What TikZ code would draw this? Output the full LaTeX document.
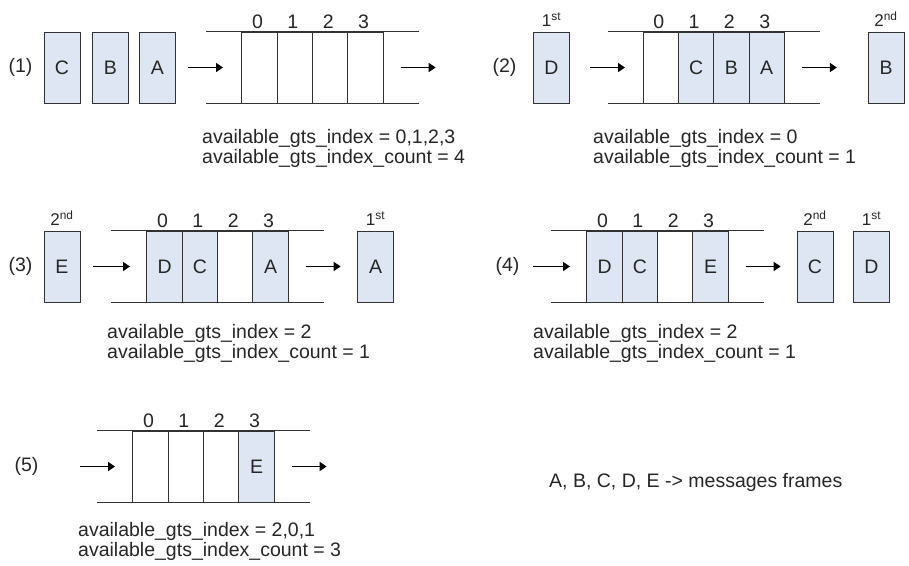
\documentclass[tikz,border=0pt]{standalone}
\usepackage{fontspec}
\setmainfont{Liberation Sans}
\usetikzlibrary{arrows.meta}
\definecolor{fillc}{RGB}{221,230,242}
\definecolor{linec}{RGB}{50,50,50}
\newcommand\mainf{\fontsize{19.5}{20}\selectfont}
\newcommand\ordf{\fontsize{17}{18}\selectfont}
\begin{document}
\begin{tikzpicture}[x=1pt,y=-1pt,
  every node/.style={font=\mainf, inner sep=0pt, text=black!85},
  frame/.style={draw=linec, fill=fillc, line width=1pt, minimum width=36pt, minimum height=71pt},
  cellb/.style={draw=linec, line width=1pt, minimum width=35.3pt, minimum height=71pt},
  qline/.style={draw=linec, line width=1.2pt},
  arr/.style={draw=black, line width=1.6pt, -{Triangle[length=7pt,width=9pt]}},
  txt/.style={anchor=base west},
  ord/.style={font=\ordf, anchor=base}]
\useasboundingbox[fill=white] (0,0) rectangle (909,565);

% ---------------- Panel 1 ----------------
\node (p1) at (20.5,67.5) {(1)};
\node[frame] (C1) at (62,67.5) {C};
\node[frame] (B1) at (110.5,67.5) {B};
\node[frame] (A1) at (157.5,67.5) {A};
\coordinate (i1s) at (188,67.5);
\coordinate (i1e) at (223,67.5);
\draw[arr] (i1s) -- (i1e);
\foreach \i/\l/\c in {0//white,1//white,2//white,3//white}{
  \node[cellb, fill=\c] (q1c\i) at (259.6+35.3*\i,67.5) {\l};
  \node (q1n\i) at ([xshift=-2pt,yshift=10pt]q1c\i.north) {\i};
}
\draw[qline] ([xshift=-35pt]q1c0.north west) -- ([xshift=35pt]q1c3.north east);
\draw[qline] ([xshift=-35pt]q1c0.south west) -- ([xshift=35pt]q1c3.south east);
\coordinate (o1s) at ([xshift=17pt]q1c3.east);
\coordinate (o1e) at ([xshift=52pt]q1c3.east);
\draw[arr] (o1s) -- (o1e);
\node[txt] (t1a) at (202,143) {available\_gts\_index = 0,1,2,3};
\node[txt] (t1b) at (202,163) {available\_gts\_index\_count = 4};

% ---------------- Panel 2 ----------------
\node (p2) at (504.5,67.5) {(2)};
\node[frame] (D2) at (551.5,67.5) {D};
\node[ord] (D2o) at ([yshift=5pt]D2.north) {1\textsuperscript{st}};
\coordinate (i2s) at (590,67.5);
\coordinate (i2e) at (625,67.5);
\draw[arr] (i2s) -- (i2e);
\foreach \i/\l/\c in {0//white,1/C/fillc,2/B/fillc,3/A/fillc}{
  \node[cellb, fill=\c] (q2c\i) at (660.8+35.3*\i,67.5) {\l};
  \node (q2n\i) at ([xshift=-2pt,yshift=10pt]q2c\i.north) {\i};
}
\draw[qline] ([xshift=-35pt]q2c0.north west) -- ([xshift=35pt]q2c3.north east);
\draw[qline] ([xshift=-35pt]q2c0.south west) -- ([xshift=35pt]q2c3.south east);
\coordinate (o2s) at ([xshift=17pt]q2c3.east);
\coordinate (o2e) at ([xshift=52pt]q2c3.east);
\draw[arr] (o2s) -- (o2e);
\node[frame] (B2) at (886,67.5) {B};
\node[ord] (B2o) at ([yshift=5pt]B2.north) {2\textsuperscript{nd}};
\node[txt] (t2a) at (593,143) {available\_gts\_index = 0};
\node[txt] (t2b) at (593,163) {available\_gts\_index\_count = 1};

% ---------------- Panel 3 ----------------
\node (p3) at (20.5,266.5) {(3)};
\node[frame] (E3) at (62,266.5) {E};
\node[ord] (E3o) at ([yshift=5pt]E3.north) {2\textsuperscript{nd}};
\coordinate (i3s) at (93,266.5);
\coordinate (i3e) at (130,266.5);
\draw[arr] (i3s) -- (i3e);
\foreach \i/\l/\c in {0/D/fillc,1/C/fillc,2//white,3/A/fillc}{
  \node[cellb, fill=\c] (q3c\i) at (164.6+35.3*\i,266.5) {\l};
  \node (q3n\i) at ([xshift=-2pt,yshift=10pt]q3c\i.north) {\i};
}
\draw[qline] ([xshift=-35pt]q3c0.north west) -- ([xshift=35pt]q3c3.north east);
\draw[qline] ([xshift=-35pt]q3c0.south west) -- ([xshift=35pt]q3c3.south east);
\coordinate (o3s) at ([xshift=17pt]q3c3.east);
\coordinate (o3e) at ([xshift=52pt]q3c3.east);
\draw[arr] (o3s) -- (o3e);
\node[frame] (A3) at (375.5,266.5) {A};
\node[ord] (A3o) at ([yshift=5pt]A3.north) {1\textsuperscript{st}};
\node[txt] (t3a) at (107,338) {available\_gts\_index = 2};
\node[txt] (t3b) at (107,358) {available\_gts\_index\_count = 1};

% ---------------- Panel 4 ----------------
\node (p4) at (507.5,266.5) {(4)};
\coordinate (i4s) at (533,266.5);
\coordinate (i4e) at (570,266.5);
\draw[arr] (i4s) -- (i4e);
\foreach \i/\l/\c in {0/D/fillc,1/C/fillc,2//white,3/E/fillc}{
  \node[cellb, fill=\c] (q4c\i) at (604.6+35.3*\i,266.5) {\l};
  \node (q4n\i) at ([xshift=-2pt,yshift=10pt]q4c\i.north) {\i};
}
\draw[qline] ([xshift=-35pt]q4c0.north west) -- ([xshift=35pt]q4c3.north east);
\draw[qline] ([xshift=-35pt]q4c0.south west) -- ([xshift=35pt]q4c3.south east);
\coordinate (o4s) at ([xshift=17pt]q4c3.east);
\coordinate (o4e) at ([xshift=52pt]q4c3.east);
\draw[arr] (o4s) -- (o4e);
\node[frame] (C4) at (815,266.5) {C};
\node[ord] (C4o) at ([yshift=5pt]C4.north) {2\textsuperscript{nd}};
\node[frame] (D4) at (871.5,266.5) {D};
\node[ord] (D4o) at ([yshift=5pt]D4.north) {1\textsuperscript{st}};
\node[txt] (t4a) at (533,338) {available\_gts\_index = 2};
\node[txt] (t4b) at (533,358) {available\_gts\_index\_count = 1};

% ---------------- Panel 5 ----------------
\node (p5) at (26.5,466.5) {(5)};
\coordinate (i5s) at (80,466.5);
\coordinate (i5e) at (115,466.5);
\draw[arr] (i5s) -- (i5e);
\foreach \i/\l/\c in {0//white,1//white,2//white,3/E/fillc}{
  \node[cellb, fill=\c] (q5c\i) at (150.6+35.3*\i,466.5) {\l};
  \node (q5n\i) at ([xshift=-2pt,yshift=10pt]q5c\i.north) {\i};
}
\draw[qline] ([xshift=-35pt]q5c0.north west) -- ([xshift=35pt]q5c3.north east);
\draw[qline] ([xshift=-35pt]q5c0.south west) -- ([xshift=35pt]q5c3.south east);
\coordinate (o5s) at ([xshift=17pt]q5c3.east);
\coordinate (o5e) at ([xshift=52pt]q5c3.east);
\draw[arr] (o5s) -- (o5e);
\node[txt] (t5a) at (78,536) {available\_gts\_index = 2,0,1};
\node[txt] (t5b) at (78,556) {available\_gts\_index\_count = 3};

% ---------------- Legend ----------------
\node[txt] (leg) at (549,487) {A, B, C, D, E -> messages frames};
\end{tikzpicture}
\end{document}
